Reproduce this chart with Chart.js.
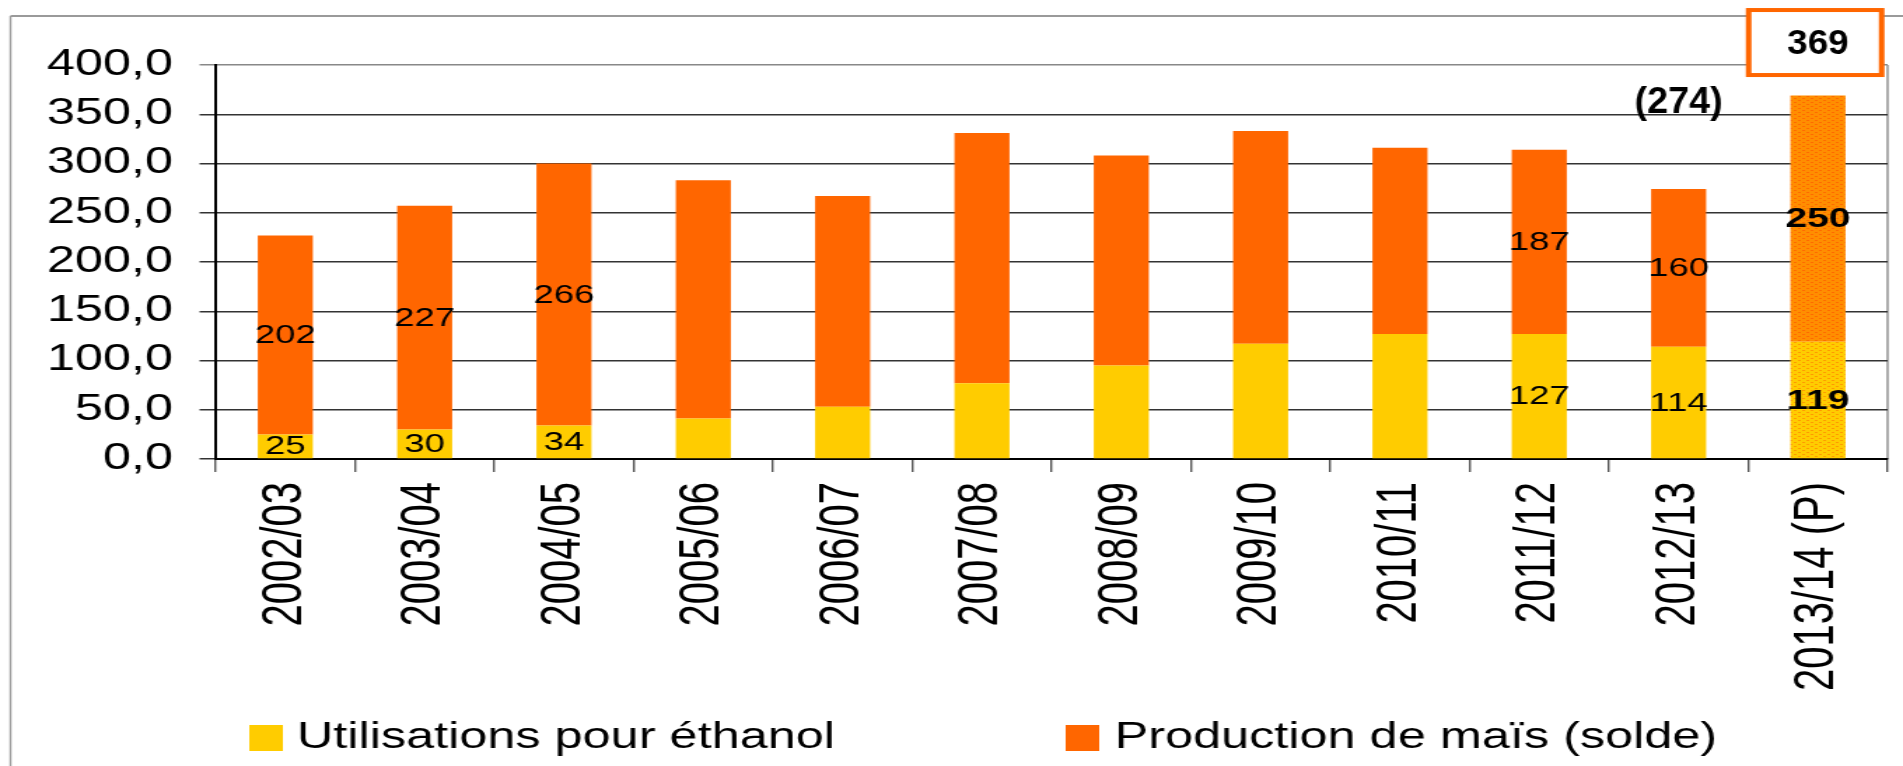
<!DOCTYPE html>
<html>
<head>
<meta charset="utf-8">
<script src="https://cdn.jsdelivr.net/npm/chart.js@4.4.0/dist/chart.umd.min.js"></script>
<style>
  html, body { margin: 0; background: #fff; }
  canvas { display: block; }
</style>
</head>
<body>
<!-- the original picture is stretched horizontally, so the canvas is drawn narrow and widened by css -->
<canvas id="maisChart" width="1359" height="766" style="width:1903px;height:766px"></canvas>
<script>
const campagnes = ["2002/03", "2003/04", "2004/05", "2005/06", "2006/07", "2007/08",
                   "2008/09", "2009/10", "2010/11", "2011/12", "2012/13", "2013/14 (P)"];
const ethanol = [25, 30, 34, 41, 53, 77, 95, 117, 127, 127, 114, 119];
const productionSolde = [202, 227, 266, 242, 214, 254, 213, 216, 189, 187, 160, 250];
const etiquettesVisibles = [0, 1, 2, 9, 10, 11];
const indicePrevision = 11;
const yTicks = [0, 50, 100, 150, 200, 250, 300, 350, 400];

const FONT = "'Liberation Sans', Arial, sans-serif";
const JAUNE = "#FFCC00";
const ORANGE = "#FF6600";

function dotPattern(base, dot) {
    const p = document.createElement("canvas");
    p.width = 6; p.height = 4;
    const c = p.getContext("2d");
    c.fillStyle = base;
    c.fillRect(0, 0, 6, 4);
    c.fillStyle = dot;
    c.fillRect(0, 0, 2, 1);
    c.fillRect(3, 2, 2, 1);
    return c.createPattern(p, "repeat");
}

const couleursEthanol = campagnes.map((_, i) => i === indicePrevision ? dotPattern(JAUNE, "#FF9A00") : JAUNE);
const couleursProduction = campagnes.map((_, i) => i === indicePrevision ? dotPattern("#FF8E00", "#FF6A00") : ORANGE);

// frame round the whole chart + right edge of plot
const cadre = {
    id: "cadre",
    beforeDraw(chart) {
        const ctx = chart.ctx;
        ctx.save();
        ctx.strokeStyle = "#9a9a9a";
        ctx.lineWidth = 2;
        ctx.beginPath();
        ctx.moveTo(7.5, 16); ctx.lineTo(chart.width, 16);
        ctx.stroke();
        ctx.lineWidth = 1.4;
        ctx.beginPath();
        ctx.moveTo(7.5, 16); ctx.lineTo(7.5, chart.height);
        ctx.stroke();
        const a = chart.chartArea;
        ctx.strokeStyle = "#888";
        ctx.beginPath();
        ctx.moveTo(a.right, a.top); ctx.lineTo(a.right, a.bottom);
        ctx.stroke();
        ctx.restore();
    }
};

// values written inside the bars
const etiquettes = {
    id: "etiquettes",
    afterDatasetsDraw(chart) {
        const ctx = chart.ctx;
        ctx.save();
        ctx.fillStyle = "#000";
        ctx.textAlign = "center";
        ctx.textBaseline = "middle";
        chart.data.datasets.forEach((ds, d) => {
            const meta = chart.getDatasetMeta(d);
            etiquettesVisibles.forEach(i => {
                const bar = meta.data[i];
                const gras = i === indicePrevision;
                ctx.font = (gras ? "bold 28px " : "26px ") + FONT;
                ctx.fillText(String(ds.data[i]), bar.x, (bar.y + bar.base) / 2 + 1);
            });
        });
        ctx.restore();
    }
};

function texteEtroit(ctx, txt, x, y, size) {
    ctx.save();
    ctx.translate(x, y);
    ctx.scale(0.75, 1);
    ctx.font = "bold " + size + "px " + FONT;
    ctx.textAlign = "center";
    ctx.textBaseline = "middle";
    ctx.fillStyle = "#000";
    ctx.fillText(txt, 0, 0);
    ctx.restore();
}

// totals above the last two bars + legend
const notes = {
    id: "notes",
    afterDraw(chart) {
        const ctx = chart.ctx;
        const top = chart.getDatasetMeta(1).data;
        const iPrec = indicePrevision - 1;
        const totPrec = ethanol[iPrec] + productionSolde[iPrec];
        const totPrev = ethanol[indicePrevision] + productionSolde[indicePrevision];

        texteEtroit(ctx, "(" + totPrec + ")", top[iPrec].x, top[iPrec].y - 86, 36);

        const bx = top[indicePrevision].x, by = top[indicePrevision].y - 52;
        ctx.save();
        ctx.fillStyle = "#fff";
        ctx.fillRect(bx - 50, by - 34, 96, 66);
        ctx.strokeStyle = ORANGE;
        ctx.lineWidth = 4;
        ctx.strokeRect(bx - 49.5, by - 33.5, 95, 65);
        ctx.restore();
        texteEtroit(ctx, String(totPrev), bx, by + 1, 35);

        // legend
        const items = [{ box: 178, text: 212 }, { box: 761, text: 796 }];
        ctx.save();
        ctx.font = "36px " + FONT;
        ctx.textBaseline = "alphabetic";
        ctx.textAlign = "left";
        chart.data.datasets.forEach((ds, d) => {
            ctx.fillStyle = d === 0 ? JAUNE : ORANGE;
            ctx.fillRect(items[d].box, 725, 24, 26);
            ctx.fillStyle = "#000";
            ctx.fillText(ds.label, items[d].text, 748);
        });
        ctx.restore();
    }
};

const ctx = document.getElementById("maisChart").getContext("2d");

new Chart(ctx, {
    type: "bar",
    data: {
        labels: campagnes,
        datasets: [
            { label: "Utilisations pour éthanol", data: ethanol, backgroundColor: couleursEthanol,
              categoryPercentage: 1, barPercentage: 0.395 },
            { label: "Production de maïs (solde)", data: productionSolde, backgroundColor: couleursProduction,
              categoryPercentage: 1, barPercentage: 0.395 }
        ]
    },
    options: {
        responsive: false,
        devicePixelRatio: 1,
        animation: false,
        layout: { padding: { top: 65, right: 11, left: 0, bottom: 0 } },
        plugins: {
            legend: { display: false },
            tooltip: { enabled: false }
        },
        scales: {
            x: {
                stacked: true,
                grid: { offset: true, drawOnChartArea: false, tickLength: 13, color: "#555", lineWidth: 1.4 },
                border: { color: "#000", width: 2 },
                ticks: {
                    autoSkip: false, maxRotation: 90, minRotation: 90, padding: 10,
                    color: "#000", font: { family: FONT, size: 40 }
                },
                afterFit: s => { s.height = 307; }
            },
            y: {
                stacked: true,
                min: 0,
                max: 400,
                afterBuildTicks: s => { s.ticks = yTicks.map(v => ({ value: v })); },
                grid: {
                    color: c => c.tick && c.tick.value === 400 ? "#888" : "#333",
                    lineWidth: 1.5,
                    tickLength: 11.5
                },
                border: { color: "#000", width: 2 },
                ticks: {
                    padding: 19, color: "#000", font: { family: FONT, size: 36 },
                    callback: v => v.toFixed(1).replace(".", ",")
                },
                afterFit: s => { s.width = 154; }
            }
        }
    },
    plugins: [cadre, etiquettes, notes]
});
</script>
</body>
</html>
